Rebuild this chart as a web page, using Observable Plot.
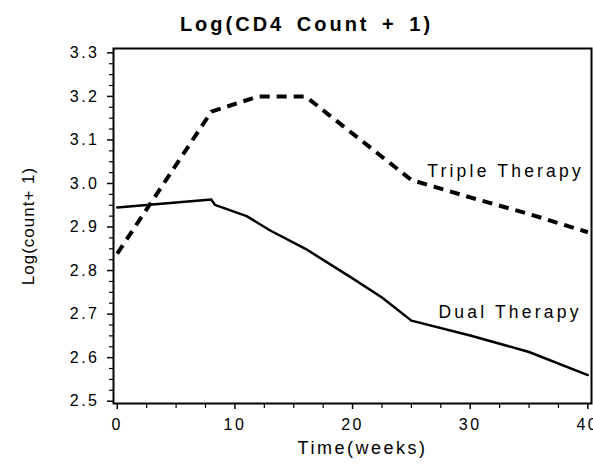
<!DOCTYPE html>
<html><head><meta charset="utf-8">
<script src="https://cdn.jsdelivr.net/npm/d3@7"></script>
<script src="https://cdn.jsdelivr.net/npm/@observablehq/plot@0.6"></script>
<style>
body{margin:0;background:#fff;font-family:"Liberation Sans",Arial,sans-serif;}
#title{box-sizing:border-box;height:36px;padding-top:14px;padding-left:20px;width:593px;text-align:center;font-size:20px;line-height:20px;letter-spacing:3px;word-spacing:4px;font-weight:bold;color:#000;}
#chart svg text{letter-spacing:2.5px;}
#chart svg g[aria-label="text"] text{letter-spacing:3.2px;}
#chart svg g[aria-label="y-axis label"] text{letter-spacing:1px;}
</style>
</head><body>
<div id="title">Log(CD4 Count + 1)</div>
<div id="chart"></div>
<script>
const dualWeek   = [0, 8, 8.3, 11, 13, 16, 20, 22.5, 25, 30, 35, 40];
const dualValue  = [2.945, 2.963, 2.951, 2.925, 2.892, 2.850, 2.782, 2.738, 2.685, 2.651, 2.613, 2.560];
const tripleWeek  = [0, 8, 12, 16, 25, 30, 35, 40];
const tripleValue = [2.839, 3.165, 3.200, 3.200, 3.008, 2.968, 2.930, 2.888];
const seriesLabels = ["Triple Therapy", "Dual Therapy"];
const labelWeek    = [26.35, 27.3];
const labelValue   = [3.027, 2.705];
const xTicks = [0, 10, 20, 30, 40];
const xMinor = [2.5, 5, 7.5, 12.5, 15, 17.5, 22.5, 25, 27.5, 32.5, 35, 37.5];
const yTicks = [2.5, 2.6, 2.7, 2.8, 2.9, 3.0, 3.1, 3.2, 3.3];

const dual = dualWeek.map((w, i) => ({week: w, value: dualValue[i]}));
const triple = tripleWeek.map((w, i) => ({week: w, value: tripleValue[i]}));
const labels = seriesLabels.map((t, i) => ({text: t, week: labelWeek[i], value: labelValue[i]}));
const yMinor = d3.range(2.5, 3.3001, 0.025).filter(v => !yTicks.some(t => Math.abs(t - v) < 1e-6));

const chart = Plot.plot({
  width: 593,
  height: 428,
  marginTop: 12,
  marginBottom: 61,
  marginLeft: 113,
  marginRight: 2,
  style: {fontFamily: '"Liberation Sans", Arial, sans-serif', color: "#000", background: "#fff"},
  x: {domain: [-0.32, 40.31]},
  y: {domain: [2.4947, 3.310]},
  marks: [
    Plot.axisY(yMinor, {tickSize: 4, text: null, label: null, strokeWidth: 1.2}),
    Plot.axisY(yTicks, {tickSize: 6, tickPadding: 8, fontSize: 16, strokeWidth: 1.5,
      tickFormat: d3.format(".1f"), label: "Log(count+ 1)", labelAnchor: "center", labelOffset: 92, labelArrow: "none"}),
    Plot.axisX(xMinor, {tickSize: 5, text: null, label: null, strokeWidth: 1.2}),
    Plot.axisX(xTicks, {tickSize: 6, tickPadding: 9, fontSize: 16, strokeWidth: 1.5,
      label: "Time(weeks)", labelAnchor: "center", labelOffset: 50, labelArrow: "none"}),
    Plot.frame({stroke: "#000", strokeWidth: 2}),
    Plot.line(dual, {x: "week", y: "value", stroke: "#000", strokeWidth: 2.5}),
    Plot.line(triple, {x: "week", y: "value", stroke: "#000", strokeWidth: 4, strokeDasharray: "10,7", strokeLinecap: "butt"}),
    Plot.text(labels, {x: "week", y: "value", text: "text", textAnchor: "start", fontSize: 17.5, fill: "#000"})
  ]
});
document.getElementById("chart").appendChild(chart);
d3.select(chart).selectAll('g[aria-label="y-axis label"] text').style("font-size", "17px");
d3.select(chart).selectAll('g[aria-label="x-axis label"] text').style("font-size", "18px").attr("dx", 10);
</script>
</body></html>
